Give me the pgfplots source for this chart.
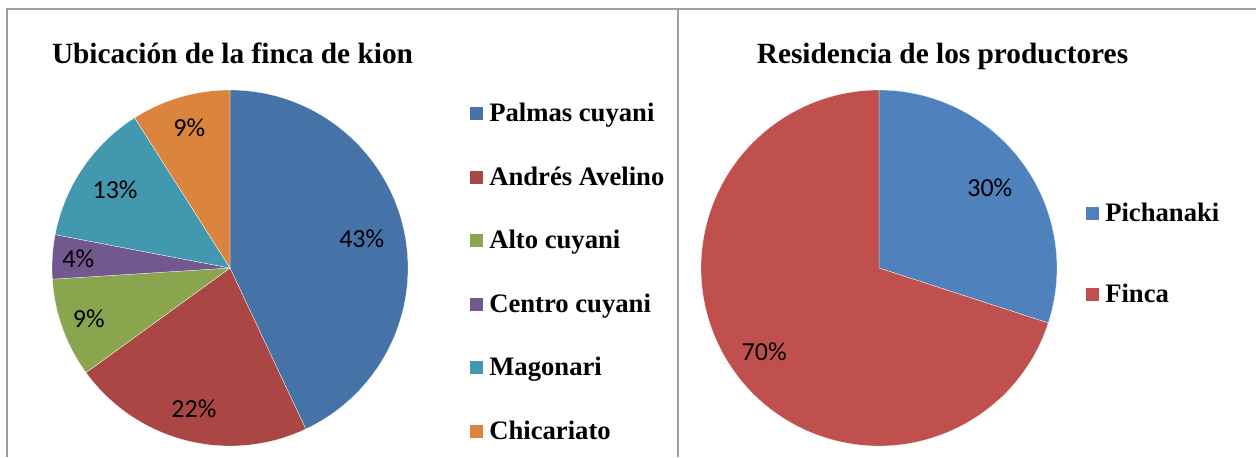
\documentclass[border=0pt]{standalone}
\usepackage{fontspec}
\setmainfont{Liberation Serif}
\newfontfamily\lblfont{Carlito}
\usepackage{pgfplots}
\usepackage{pgfplotstable}
\pgfplotsset{compat=1.18}

% Excel 2007 style palette
\definecolor{cA}{HTML}{4572A7}
\definecolor{cB}{HTML}{AA4643}
\definecolor{cC}{HTML}{89A54E}
\definecolor{cD}{HTML}{71588F}
\definecolor{cE}{HTML}{4198AF}
\definecolor{cF}{HTML}{DB843D}
\definecolor{rA}{HTML}{4F81BD}
\definecolor{rB}{HTML}{C0504D}

% pct = share, ld = label distance from centre (px)
\pgfplotstableread{
name pct col ld
{Palmas cuyani} 43 cA 135
{Andrés Avelino} 22 cB 145
{Alto cuyani} 9 cC 150
{Centro cuyani} 4 cD 152
{Magonari} 13 cE 139
{Chicariato} 9 cF 146
}\ubicacion

\pgfplotstableread{
name pct col ld
{Pichanaki} 30 rA 137
{Finca} 70 rB 142
}\residencia

% draw one pie from a table, starting at 12 o'clock, clockwise
\newcommand\drawpie[1]{%
  \pgfplotstablegetrowsof{#1}%
  \pgfmathtruncatemacro\last{\pgfplotsretval-1}%
  \gdef\startang{90}%
  \foreach \i in {0,...,\last}{%
    \pgfplotstablegetelem{\i}{pct}\of#1\let\p\pgfplotsretval
    \pgfplotstablegetelem{\i}{col}\of#1\let\c\pgfplotsretval
    \pgfplotstablegetelem{\i}{ld}\of#1\let\ld\pgfplotsretval
    \pgfmathsetmacro\endang{\startang-3.6*\p}%
    \pgfmathsetmacro\midang{(\startang+\endang)/2}%
    \fill[\c,draw=white,line width=0.2pt] (axis cs:0,0) --
      (axis cs:{178*cos(\startang)},{178*sin(\startang)})
      arc[start angle=\startang,end angle=\endang,radius=133.5pt] -- cycle;
    \node[font=\lblfont\fontsize{19.5}{23}\selectfont]
      at (axis cs:{\ld*cos(\midang)},{\ld*sin(\midang)}) {\p\%};
    \xdef\startang{\endang}%
  }%
}

\begin{document}
\begin{tikzpicture}[x=0.75pt,y=0.75pt]
\path[use as bounding box] (0,0) rectangle (1256,-457);
\draw[gray!75,line width=1.5pt] (7,-457) -- (7,-9) -- (1256,-9);
\draw[gray!75,line width=1.5pt] (678,-9) -- (678,-457);

\pgfplotsset{piestyle/.style={hide axis,x=0.75pt,y=0.75pt,
  xmin=-178,xmax=178,ymin=-178,ymax=178,anchor=center,clip=false}}

\begin{axis}[piestyle,at={(230,-268)}]
\pgfplotsextra{\drawpie{\ubicacion}}
\end{axis}

\begin{axis}[piestyle,at={(879,-268)}]
\pgfplotsextra{\drawpie{\residencia}}
\end{axis}

% titles
\node[anchor=base,font=\bfseries\fontsize{22}{26}\selectfont] at (232.5,-63) {Ubicación de la finca de kion};
\node[anchor=base,font=\bfseries\fontsize{22}{26}\selectfont] at (942.5,-63) {Residencia de los productores};

% legends
\foreach \y/\c/\t in {113/cA/Palmas cuyani,177/cB/Andrés Avelino,240/cC/Alto cuyani,
  304/cD/Centro cuyani,367/cE/Magonari,431/cF/Chicariato}{
  \fill[\c] (470,-\y+6.5) rectangle (483,-\y-6.5);
  \node[anchor=base west,inner sep=0pt,font=\bfseries\fontsize{20}{24}\selectfont] at (489,-\y-8.5) {\t};
}
\foreach \y/\c/\t in {213/rA/Pichanaki,294/rB/Finca}{
  \fill[\c] (1086,-\y+6.5) rectangle (1099,-\y-6.5);
  \node[anchor=base west,inner sep=0pt,font=\bfseries\fontsize{20}{24}\selectfont] at (1105,-\y-8.5) {\t};
}
\end{tikzpicture}
\end{document}
